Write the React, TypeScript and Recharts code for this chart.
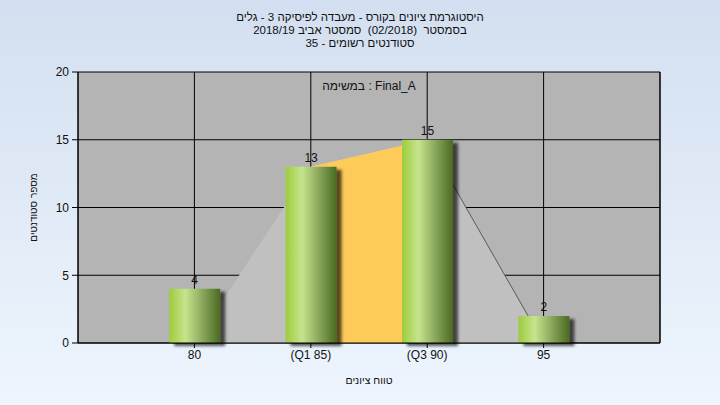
import {
  ComposedChart, Bar, Area, XAxis, YAxis, CartesianGrid, LabelList,
} from 'recharts'

const categories = ['80', '(Q1 85)', '(Q3 90)', '95']
const positions = [1, 2, 3, 4]
const counts = [4, 13, 15, 2]
const envelope = [0, 13, 15, 0]
const quartileBand = [null, 13, 15, null]
const upperTail = [null, null, 15, 0]
const yTicks = [0, 5, 10, 15, 20]

const titleLines = [
  'היסטוגרמת ציונים בקורס - מעבדה לפיסיקה 3 - גלים',
  'בסמסטר  (02/2018)  סמסטר אביב 2018/19',
  'סטודנטים רשומים - 35',
]

const data = positions.map((x, i) => ({
  x,
  label: categories[i],
  count: counts[i],
  envelope: envelope[i],
  band: quartileBand[i],
  tail: upperTail[i],
}))

const font = '"Liberation Sans", Arial, sans-serif'
const tickStyle = { fontSize: 12, fill: '#111', fontFamily: font }

export default function App() {
  return (
    <div
      style={{
        position: 'absolute', left: 0, top: 0, width: 720, height: 405,
        background: 'linear-gradient(to bottom, #d3dff0, #eef5fd)',
        fontFamily: font,
      }}
    >
      <div
        style={{
          position: 'absolute', left: 0, top: 11, width: 720, textAlign: 'center',
          fontSize: 11.5, lineHeight: '13px', color: '#111',
        }}
      >
        {titleLines.map((t) => <div key={t} style={{ whiteSpace: 'pre' }}>{t}</div>)}
      </div>
      <ComposedChart
        width={720}
        height={405}
        data={data}
        margin={{ top: 72, right: 0, bottom: 12, left: 0 }}
        style={{ position: 'absolute', left: 0, top: 0 }}
      >
        <defs>
          <linearGradient id="barFill" x1="0" y1="0" x2="1" y2="0">
            <stop offset="0%" stopColor="#9dcc3e" />
            <stop offset="32%" stopColor="#c6e48c" />
            <stop offset="65%" stopColor="#8aa85c" />
            <stop offset="100%" stopColor="#4a6a22" />
          </linearGradient>
          <filter id="barShadow" x="-20%" y="-20%" width="150%" height="150%">
            <feDropShadow dx="5" dy="3" stdDeviation="1.6" floodColor="#000" floodOpacity="0.65" />
          </filter>
        </defs>
        <CartesianGrid yAxisId="left" stroke="#000" fill="#b4b4b4" strokeOpacity={1} />
        <XAxis
          dataKey="x"
          type="number"
          domain={[0, 5]}
          ticks={positions}
          tickFormatter={(v: number) => categories[v - 1] ?? ''}
          tick={tickStyle}
          tickSize={5}
          axisLine={{ stroke: '#000' }}
          tickLine={{ stroke: '#000' }}
          height={50}
          label={{ value: 'טווח ציונים', position: 'insideBottom', offset: 9, fontSize: 10.5, fill: '#111', fontFamily: font }}
        />
        <YAxis
          yAxisId="left"
          domain={[0, 20]}
          ticks={yTicks}
          width={78}
          tick={tickStyle}
          tickSize={6}
          tickMargin={3}
          axisLine={{ stroke: '#000' }}
          tickLine={{ stroke: '#000' }}
          label={{ value: 'מספר סטודנטים', angle: -90, position: 'center', dx: -6, fontSize: 10, fill: '#111', fontFamily: font }}
        />
        <YAxis
          yAxisId="right"
          orientation="right"
          domain={[0, 20]}
          ticks={yTicks}
          width={60}
          tick={tickStyle}
          tickSize={6}
          tickMargin={3}
          axisLine={{ stroke: '#000' }}
          tickLine={{ stroke: '#000' }}
        />
        <Area
          yAxisId="left"
          type="linear"
          dataKey="envelope"
          fill="#c0c0c0"
          fillOpacity={1}
          stroke="none"
          isAnimationActive={false}
        />
        <Area
          yAxisId="left"
          type="linear"
          dataKey="band"
          fill="#fecb59"
          fillOpacity={1}
          stroke="none"
          isAnimationActive={false}
        />
        <Area
          yAxisId="left"
          type="linear"
          dataKey="tail"
          fill="none"
          stroke="#5a5a5a"
          strokeWidth={1}
          dot={false}
          activeDot={false}
          isAnimationActive={false}
        />
        <Bar
          yAxisId="left"
          dataKey="count"
          barSize={51}
          fill="url(#barFill)"
          filter="url(#barShadow)"
          isAnimationActive={false}
        >
          <LabelList dataKey="count" position="top" fontSize={12} fill="#111" fontFamily={font} />
        </Bar>
      </ComposedChart>
      <div
        style={{
          position: 'absolute', left: 78, top: 79, width: 582, textAlign: 'center',
          fontSize: 12, color: '#111',
        }}
      >
        במשימה : Final_A
      </div>
    </div>
  )
}
